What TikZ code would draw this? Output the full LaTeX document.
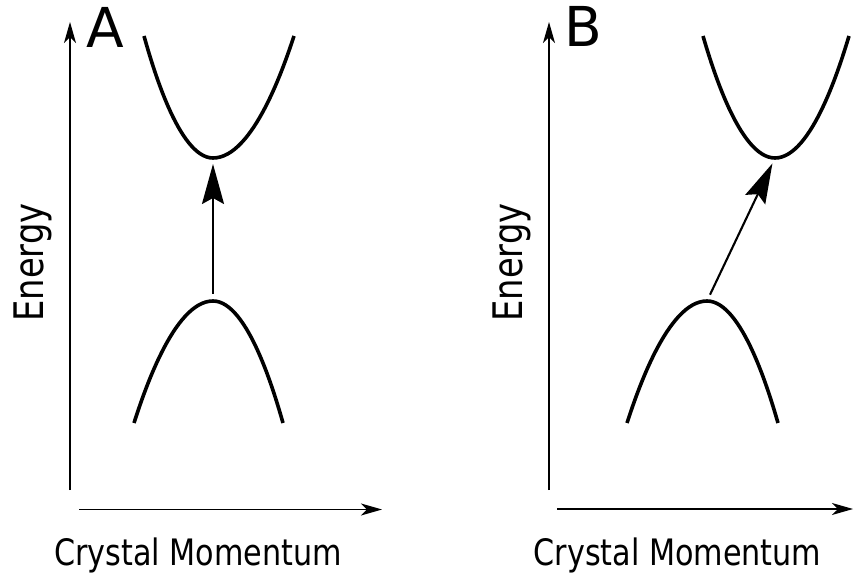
\documentclass[tikz,border=0pt]{standalone}
\usepackage{fontspec}
\setmainfont{DejaVu Sans}
\newfontfamily\axisfont{DejaVu Sans}[FakeStretch=0.83]
\usetikzlibrary{arrows.meta}
\tikzset{>=latex}
\tikzstyle{axis}=[line width=1.3pt,-{Stealth[length=21pt,width=12pt,inset=6pt]}]
\tikzstyle{band}=[line width=3.6pt]
\tikzstyle{trans}=[line width=2.1pt,-{Stealth[length=40pt,width=22pt,inset=6pt]},shorten <=7pt,shorten >=6pt]
\tikzstyle{axislabel}=[inner sep=0pt,anchor=base,font=\axisfont\fontsize{36.4}{40}\selectfont]
\tikzstyle{elabel}=[inner sep=0pt,anchor=base,rotate=90,font=\axisfont\fontsize{40.7}{44}\selectfont]
\tikzstyle{panel}=[inner sep=0pt,anchor=base,font=\fontsize{55}{60}\selectfont]

\begin{document}
\begin{tikzpicture}[x=1pt,y=-1pt]
  \useasboundingbox (0,0) rectangle (854,577);

  % PANEL A
  \coordinate (AO)  at ( 70, 490); % vertical axis foot
  \coordinate (AE)  at ( 70,  22); % energy tip
  \coordinate (AK0) at ( 79, 509.5);
  \coordinate (AK)  at (382, 509.5); % momentum tip
  \coordinate (ACB) at (213, 158); % conduction band minimum
  \coordinate (AVB) at (213, 301); % valence band maximum

  \draw[axis] (AO) -- (AE);
  \draw[axis] (AK0) -- (AK);
  \draw[band] (144,36) parabola bend (ACB) (294,36);
  \draw[band] (134,423) parabola bend (AVB) (283,423);
  \draw[trans] (AVB) -- (ACB);

  \node[panel]     (labA) at (105.5, 48)  {A};
  \node[elabel]    (enA)  at ( 43, 262.5) {Energy};
  \node[axislabel] (kA)   at (198, 565)   {Crystal Momentum};

  % PANEL B
  \coordinate (BO)  at (549, 490);
  \coordinate (BE)  at (549,  22);
  \coordinate (BK0) at (557, 509);
  \coordinate (BK)  at (853, 509);
  \coordinate (BCB) at (775, 158); % conduction band minimum
  \coordinate (BVB) at (707, 301); % valence band maximum

  \draw[axis] (BO) -- (BE);
  \draw[axis] (BK0) -- (BK);
  \draw[band] (703,36) parabola bend (BCB) (849,36);
  \draw[band] (627,423) parabola bend (BVB) (778,423);
  \draw[trans] (BVB) -- (BCB);

  \node[panel]     (labB) at (583.5, 47)  {B};
  \node[elabel]    (enB)  at (522, 262.5) {Energy};
  \node[axislabel] (kB)   at (677.5, 565) {Crystal Momentum};
\end{tikzpicture}
\end{document}
